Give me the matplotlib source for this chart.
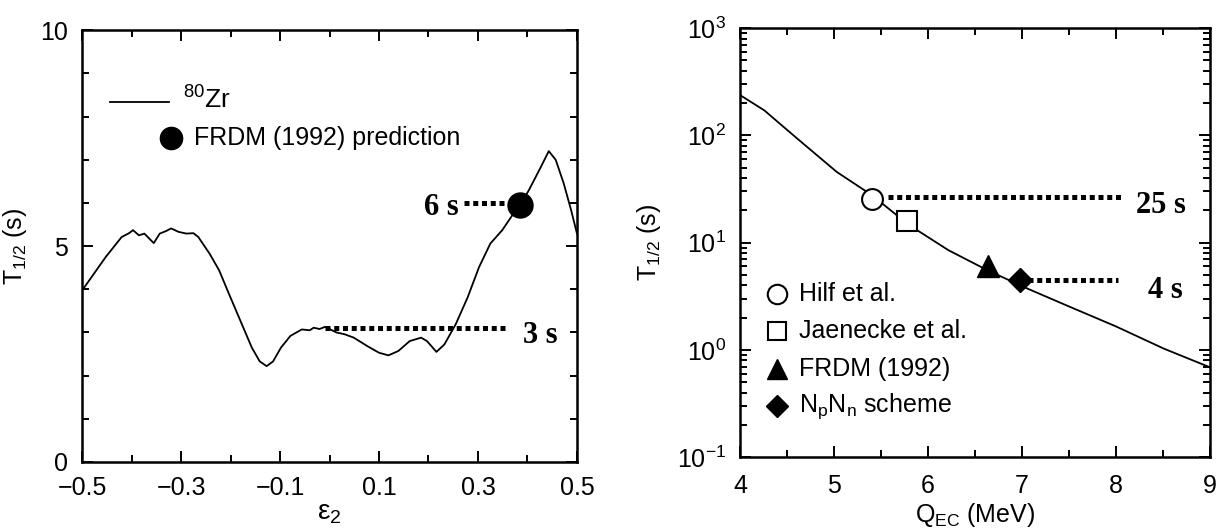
import matplotlib
matplotlib.use("Agg")
import matplotlib.pyplot as plt
from matplotlib.ticker import MultipleLocator, LogLocator, NullFormatter, FixedLocator

plt.rcParams['font.family'] = ['Liberation Sans', 'DejaVu Sans']
plt.rcParams['mathtext.fontset'] = 'custom'
plt.rcParams['mathtext.rm'] = 'Liberation Sans'
plt.rcParams['mathtext.it'] = 'Liberation Sans:italic'
plt.rcParams['mathtext.bf'] = 'Liberation Sans:bold'

# ---- Left panel data: T1/2 vs deformation eps2 for 80Zr ----
eps2 = [-0.5, -0.452, -0.42, -0.405, -0.397, -0.385, -0.374, -0.362, -0.355, -0.343,
        -0.33, -0.32, -0.305, -0.289, -0.275, -0.265,
        -0.242, -0.223, -0.203, -0.18, -0.157, -0.141, -0.127, -0.114, -0.098, -0.079,
        -0.056, -0.04, -0.032, -0.02, -0.009, 0.014, 0.03, 0.049, 0.077, 0.1, 0.119, 0.139,
        0.162, 0.185, 0.197, 0.216, 0.232, 0.255, 0.279, 0.302, 0.325, 0.349,
        0.372, 0.385, 0.403, 0.426, 0.443, 0.457, 0.473, 0.488, 0.5]
t_half = [3.97, 4.75, 5.21, 5.30, 5.37, 5.25, 5.29, 5.15, 5.07, 5.29,
          5.35, 5.41, 5.33, 5.29, 5.30, 5.21,
          4.82, 4.44, 3.89, 3.27, 2.65, 2.33, 2.22, 2.33, 2.65, 2.92,
          3.07, 3.05, 3.11, 3.08, 3.13, 3.0, 2.96, 2.88, 2.68, 2.53, 2.47, 2.57,
          2.80, 2.88, 2.80, 2.55, 2.72, 3.19, 3.81, 4.51, 5.06, 5.37,
          5.76, 5.95, 6.30, 6.81, 7.20, 7.0, 6.46, 5.84, 5.29]
frdm_eps2 = 0.385
frdm_t = 5.95

# ---- Right panel data: T1/2 vs Q_EC ----
qec = [4.0, 4.26, 4.60, 5.03, 5.41, 5.79, 6.22, 6.64, 7.07, 7.49, 8.0, 8.51, 9.0]
t_qec = [238, 171, 95, 45.7, 27.5, 14.8, 8.5, 5.5, 3.7, 2.57, 1.66, 1.03, 0.69]
hilf = (5.41, 25.5)
jaenecke = (5.78, 16.0)
frdm92 = (6.64, 6.0)
npnn = (6.98, 4.45)

fig = plt.figure(figsize=(12.17, 5.31), dpi=100)
ax1 = fig.add_axes([0.0674, 0.1300, 0.4067, 0.813])
ax2 = fig.add_axes([0.608, 0.139, 0.386, 0.808])

FS = 18
dot_style = dict(color='black', lw=3.6, dashes=(1.0, 0.75), dash_capstyle='butt', solid_capstyle='butt')
serif = dict(family=['Liberation Serif', 'DejaVu Serif'], fontweight='bold', fontsize=22)

# ---------- Left ----------
ax1.plot(eps2, t_half, color='black', lw=1.3)
ax1.plot([frdm_eps2], [frdm_t], 'o', color='black', ms=18)
ax1.plot([0.272, 0.372], [6.0, 6.0], **dot_style)
ax1.plot([-0.009, 0.357], [3.11, 3.11], **dot_style)
ax1.text(0.262, 5.9, '6 s', ha='right', va='center', **serif)
ax1.text(0.39, 2.92, '3 s', ha='left', va='center', **serif)
# legend
ax1.plot([-0.444, -0.324], [8.33, 8.33], color='black', lw=1.3)
ax1.text(-0.295, 8.38, r'$^{80}$Zr', ha='left', va='center', fontsize=FS + 1)
ax1.plot([-0.32], [7.51], 'o', color='black', ms=16)
ax1.text(-0.273, 7.51, 'FRDM (1992) prediction', ha='left', va='center', fontsize=FS)

ax1.set_xlim(-0.5, 0.5)
ax1.set_ylim(0, 10)
ax1.xaxis.set_major_locator(FixedLocator([-0.5, -0.3, -0.1, 0.1, 0.3, 0.5]))
ax1.xaxis.set_minor_locator(FixedLocator([-0.4, -0.2, 0.0, 0.2, 0.4]))
ax1.set_xticklabels(['\u22120.5', '\u22120.3', '\u22120.1', '0.1', '0.3', '0.5'])
ax1.yaxis.set_major_locator(FixedLocator([0, 5, 10]))
ax1.yaxis.set_minor_locator(MultipleLocator(1))
ax1.set_xlabel(r'$\mathregular{\varepsilon_2}$', fontsize=FS + 2, labelpad=0)
ax1.set_ylabel(r'T$_{\mathregular{1/2}}$ (s)', fontsize=FS, labelpad=8)

# ---------- Right ----------
ax2.plot(qec, t_qec, color='black', lw=1.3)
ax2.plot([hilf[0]], [hilf[1]], 'o', mfc='white', mec='black', mew=1.5, ms=15)
ax2.plot([jaenecke[0]], [jaenecke[1]], 's', mfc='white', mec='black', mew=1.5, ms=14)
ax2.plot([frdm92[0]], [frdm92[1]], '^', color='black', ms=16)
ax2.plot([npnn[0]], [npnn[1]], 'D', color='black', ms=12)
ax2.plot([5.58, 8.09], [26.5, 26.5], **dot_style)
ax2.plot([7.07, 8.02], [4.45, 4.45], **dot_style)
ax2.text(8.22, 22, '25 s', ha='left', va='center', **serif)
ax2.text(8.34, 3.6, '4 s', ha='left', va='center', **serif)
# legend
lx, tx = 4.39, 4.63
rows = [3.3, 1.49, 0.67, 0.30]
ax2.plot([lx], [rows[0]], 'o', mfc='white', mec='black', mew=1.5, ms=14)
ax2.plot([lx], [rows[1]], 's', mfc='white', mec='black', mew=1.5, ms=13)
ax2.plot([lx], [rows[2]], '^', color='black', ms=15)
ax2.plot([lx], [rows[3]], 'D', color='black', ms=11)
labels = ['Hilf et al.', 'Jaenecke et al.', 'FRDM (1992)', r'N$_{\mathregular{p}}$N$_{\mathregular{n}}$ scheme']
for r, lab in zip(rows, labels):
    ax2.text(tx, r, lab, ha='left', va='center', fontsize=FS)

ax2.set_xlim(4, 9)
ax2.set_yscale('log')
ax2.set_ylim(0.1, 1000)
ax2.xaxis.set_major_locator(MultipleLocator(1))
ax2.xaxis.set_minor_locator(MultipleLocator(0.5))
ax2.yaxis.set_major_locator(LogLocator(base=10, numticks=10))
ax2.yaxis.set_minor_locator(LogLocator(base=10, subs=[2, 3, 4, 5, 6, 7, 8, 9], numticks=20))
ax2.yaxis.set_minor_formatter(NullFormatter())
ax2.set_xlabel(r'Q$_{\mathregular{EC}}$ (MeV)', fontsize=FS, labelpad=2)
ax2.set_ylabel(r'T$_{\mathregular{1/2}}$ (s)', fontsize=FS, labelpad=10)

for ax in (ax1, ax2):
    for s in ax.spines.values():
        s.set_linewidth(1.8)
    ax.tick_params(which='both', direction='in', top=True, right=True, labelsize=FS, width=1.4)
    ax.tick_params(which='major', length=8)
    ax.tick_params(axis='y', which='major', pad=10)
    ax.tick_params(which='minor', length=5)
ax1.tick_params(axis='x', which='major', pad=10)
ax2.tick_params(axis='x', which='major', pad=12)

fig.savefig('out.png', dpi=100)
